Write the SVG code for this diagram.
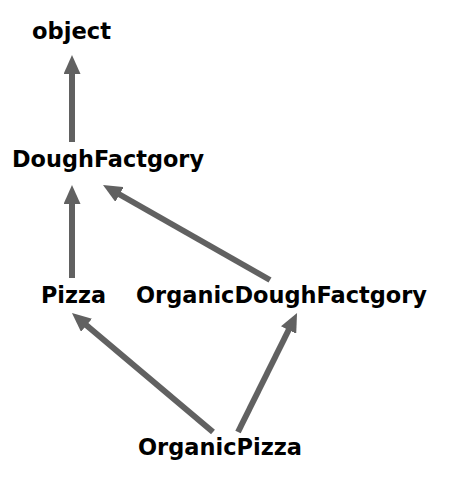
<svg xmlns="http://www.w3.org/2000/svg" width="451" height="481" viewBox="0 0 451 481">
<defs>
<style>
.lbl{font-family:"DejaVu Sans","Verdana",sans-serif;font-weight:bold;font-size:23px;fill:#000}
.edge{stroke:#616161;stroke-width:6;fill:none}
</style>
<marker id="ah" viewBox="0 0 19 17" markerWidth="19" markerHeight="17" markerUnits="userSpaceOnUse" refX="9" refY="8.5" orient="auto">
<path d="M0,0 L19,8.5 L0,17 z" fill="#616161"/>
</marker>
</defs>
<rect width="451" height="481" fill="#fff"/>
<g id="connectors">
<line class="edge" x1="72" y1="142" x2="72" y2="65" marker-end="url(#ah)"/>
<line class="edge" x1="72" y1="278" x2="72" y2="195" marker-end="url(#ah)"/>
<line class="edge" x1="270" y1="280" x2="111.7" y2="190" marker-end="url(#ah)"/>
<line class="edge" x1="213" y1="432" x2="79.6" y2="319.5" marker-end="url(#ah)"/>
<line class="edge" x1="238" y1="432" x2="292.6" y2="322" marker-end="url(#ah)"/>
</g>
<g id="object"><text class="lbl" x="32" y="39" textLength="79" lengthAdjust="spacingAndGlyphs">object</text></g>
<g id="DoughFactgory"><text class="lbl" x="12" y="167" textLength="192" lengthAdjust="spacingAndGlyphs">DoughFactgory</text></g>
<g id="Pizza"><text class="lbl" x="41" y="303" textLength="65" lengthAdjust="spacingAndGlyphs">Pizza</text></g>
<g id="OrganicDoughFactgory"><text class="lbl" x="136" y="303" textLength="291" lengthAdjust="spacingAndGlyphs">OrganicDoughFactgory</text></g>
<g id="OrganicPizza"><text class="lbl" x="138" y="455" textLength="164" lengthAdjust="spacingAndGlyphs">OrganicPizza</text></g>
</svg>
